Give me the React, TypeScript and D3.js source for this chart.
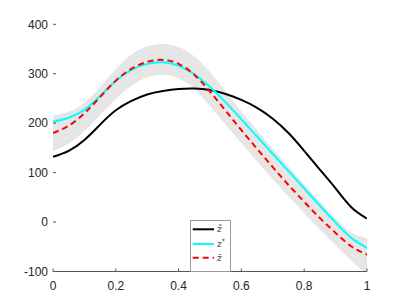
import * as d3 from "d3";

const xs = [0, 0.05, 0.1, 0.15, 0.2, 0.25, 0.3, 0.35, 0.4, 0.45, 0.5, 0.55, 0.6, 0.65, 0.7, 0.75, 0.8, 0.85, 0.9, 0.95, 1];
const zTilde = [132, 144, 166, 197, 226, 245, 258, 265, 269, 270, 267, 259, 247, 231, 209, 180, 144, 106, 68, 30, 7];
const zStar = [203, 211, 227, 255, 286, 308, 320, 323, 316, 299, 273, 242, 208, 173, 138, 103, 68, 33, -1, -32, -52];
const zBar = [180, 195, 220, 253, 286, 310, 324, 328, 320, 298, 264, 225, 186, 148, 111, 75, 41, 8, -22, -49, -66];
const bandUpper = [214, 222, 240, 272, 308, 338, 354, 359, 353, 334, 302, 262, 222, 184, 147, 111, 75, 40, 6, -22, -34];
const bandLower = [145, 160, 185, 217, 250, 277, 294, 299, 292, 271, 236, 198, 161, 124, 88, 53, 19, -14, -46, -77, -105];

const xTicks = [0, 0.2, 0.4, 0.6, 0.8, 1];
const yTicks = [-100, 0, 100, 200, 300, 400];
const legendLabels = ["z̃", "z", "z̄"];

const W = 407;
const H = 306;

export default function App() {
  const x = d3.scaleLinear().domain([0, 1]).range([53, 367]);
  const y = d3.scaleLinear().domain([-100, 400]).range([271.5, 24.3]);

  const line = (vals: number[]) =>
    d3
      .line<number>()
      .x((_, i) => x(xs[i]))
      .y((d) => y(d))
      .curve(d3.curveNatural)(vals) || "";

  const band =
    d3
      .area<number>()
      .x((_, i) => x(xs[i]))
      .y0((_, i) => y(bandLower[i]))
      .y1((d) => y(d))
      .curve(d3.curveNatural)(bandUpper) || "";

  const font = "'Liberation Sans', Arial, sans-serif";
  const legendColors = ["#000000", "#00ffff", "#ff0000"];
  const legendY = [229.3, 244, 257.7];

  return (
    <div style={{ position: "fixed", left: 0, top: 0 }}>
      <svg width={W} height={H} style={{ display: "block", background: "#fff" }}>
        <defs>
          <clipPath id="plot">
            <rect x={x(0)} y={y(400)} width={x(1) - x(0)} height={y(-100) - y(400)} />
          </clipPath>
        </defs>

        <g clipPath="url(#plot)">
          <path d={band} fill="#e6e6e6" stroke="#e3e3e3" strokeWidth={1} />
          <path d={line(zTilde)} fill="none" stroke="#000" strokeWidth={2} />
          <path d={line(zStar)} fill="none" stroke="#00ffff" strokeWidth={2} />
          <path d={line(zBar)} fill="none" stroke="#ff0000" strokeWidth={2} strokeDasharray="6,4" />
        </g>

        {/* x axis */}
        <line x1={x(0)} x2={x(1)} y1={y(-100)} y2={y(-100)} stroke="#555" strokeWidth={1} />
        {xTicks.map((t) => (
          <g key={t}>
            <line x1={x(t)} x2={x(t)} y1={y(-100)} y2={y(-100) - 3} stroke="#555" />
            <text x={x(t)} y={289.5} textAnchor="middle" fontFamily={font} fontSize={12} fill="#262626">
              {t}
            </text>
          </g>
        ))}

        {/* y ticks, no axis line */}
        {yTicks.map((t) => (
          <g key={t}>
            <line x1={x(0)} x2={x(0) + 3} y1={y(t)} y2={y(t)} stroke="#555" />
            <text x={48} y={y(t) + 4.2} textAnchor="end" fontFamily={font} fontSize={12} fill="#262626">
              {t}
            </text>
          </g>
        ))}

        {/* legend */}
        <rect x={190.5} y={220.5} width={40} height={y(-100) - 220.5} fill="#fff" stroke="#999" strokeWidth={1} />
        {legendLabels.map((lab, i) => (
          <g key={i}>
            <line
              x1={192.7}
              x2={214}
              y1={legendY[i]}
              y2={legendY[i]}
              stroke={legendColors[i]}
              strokeWidth={2}
              strokeDasharray={i === 2 ? "6,4" : undefined}
            />
            <text x={217} y={legendY[i] + 3} fontFamily="'DejaVu Serif', serif" fontStyle="italic" fontSize={9} fill="#262626">
              {lab}
              {i === 1 && (
                <tspan fontSize={6} dy={-4}>
                  *
                </tspan>
              )}
            </text>
          </g>
        ))}
      </svg>
    </div>
  );
}
